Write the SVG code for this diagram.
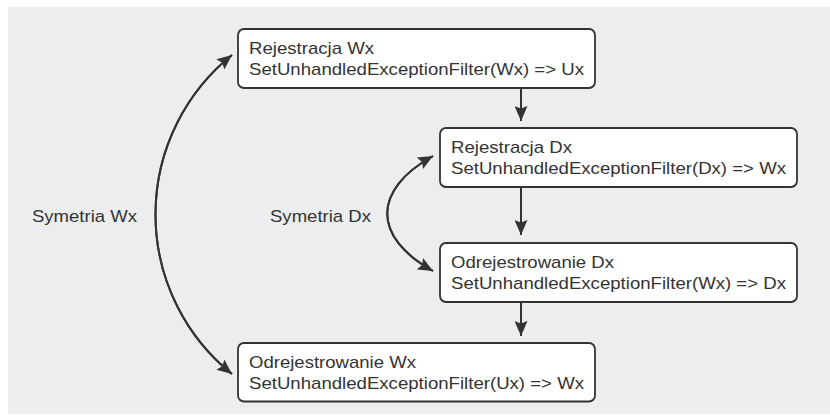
<svg xmlns="http://www.w3.org/2000/svg" width="830" height="417" viewBox="0 0 830 417">
  <style>
    .bg { fill: #ecedef; }
    .box { fill: #ffffff; stroke: #333333; stroke-width: 1.8; }
    .lbl { font-family: "Liberation Sans", Arial, sans-serif; font-size: 17px; fill: #333333; }
    .conn { fill: none; stroke: #333333; stroke-width: 2; }
  </style>
  <defs>
    <marker id="arr" markerUnits="userSpaceOnUse" markerWidth="16" markerHeight="13" refX="15" refY="6.5" orient="auto">
      <path d="M0,0 L15,6.5 L0,13 L2.5,6.5 z" fill="#333333"/>
    </marker>
  </defs>
  <rect class="bg" x="8" y="7" width="822" height="407"/>

  <g id="connectors">
    <path class="conn" d="M521,88 L521,121" marker-end="url(#arr)"/>
    <path class="conn" d="M521,187 L521,235" marker-end="url(#arr)"/>
    <path class="conn" d="M521,302 L521,336" marker-end="url(#arr)"/>
    <path class="conn" d="M232,55 A204.5,204.5 0 0 0 232,374" marker-end="url(#arr)"/>
    <path class="conn" d="M232,374 A204.5,204.5 0 0 1 232,55" marker-end="url(#arr)"/>
    <path class="conn" d="M433,156 C372,190 372,237 433,271" marker-end="url(#arr)"/>
    <path class="conn" d="M433,271 C372,237 372,190 433,156" marker-end="url(#arr)"/>
  </g>

  <g id="node-rejestracja-wx">
    <rect class="box" x="238" y="29" width="357" height="59" rx="6"/>
    <text class="lbl" x="249" y="54" textLength="125" lengthAdjust="spacingAndGlyphs">Rejestracja Wx</text>
    <text class="lbl" x="249" y="74.5" textLength="335" lengthAdjust="spacingAndGlyphs">SetUnhandledExceptionFilter(Wx) =&gt; Ux</text>
  </g>
  <g id="node-rejestracja-dx">
    <rect class="box" x="440" y="128" width="357" height="59" rx="6"/>
    <text class="lbl" x="451" y="153" textLength="121" lengthAdjust="spacingAndGlyphs">Rejestracja Dx</text>
    <text class="lbl" x="451" y="173.5" textLength="335" lengthAdjust="spacingAndGlyphs">SetUnhandledExceptionFilter(Dx) =&gt; Wx</text>
  </g>
  <g id="node-odrejestrowanie-dx">
    <rect class="box" x="440" y="243" width="357" height="59" rx="6"/>
    <text class="lbl" x="451" y="268" textLength="163" lengthAdjust="spacingAndGlyphs">Odrejestrowanie Dx</text>
    <text class="lbl" x="451" y="288.5" textLength="335" lengthAdjust="spacingAndGlyphs">SetUnhandledExceptionFilter(Wx) =&gt; Dx</text>
  </g>
  <g id="node-odrejestrowanie-wx">
    <rect class="box" x="238" y="343" width="357" height="58.5" rx="6"/>
    <text class="lbl" x="249" y="368" textLength="167" lengthAdjust="spacingAndGlyphs">Odrejestrowanie Wx</text>
    <text class="lbl" x="249" y="388.5" textLength="335" lengthAdjust="spacingAndGlyphs">SetUnhandledExceptionFilter(Ux) =&gt; Wx</text>
  </g>
  <g id="label-symetria-wx">
    <text class="lbl" x="32" y="222" textLength="105" lengthAdjust="spacingAndGlyphs">Symetria Wx</text>
  </g>
  <g id="label-symetria-dx">
    <text class="lbl" x="270" y="222" textLength="101" lengthAdjust="spacingAndGlyphs">Symetria Dx</text>
  </g>
</svg>
